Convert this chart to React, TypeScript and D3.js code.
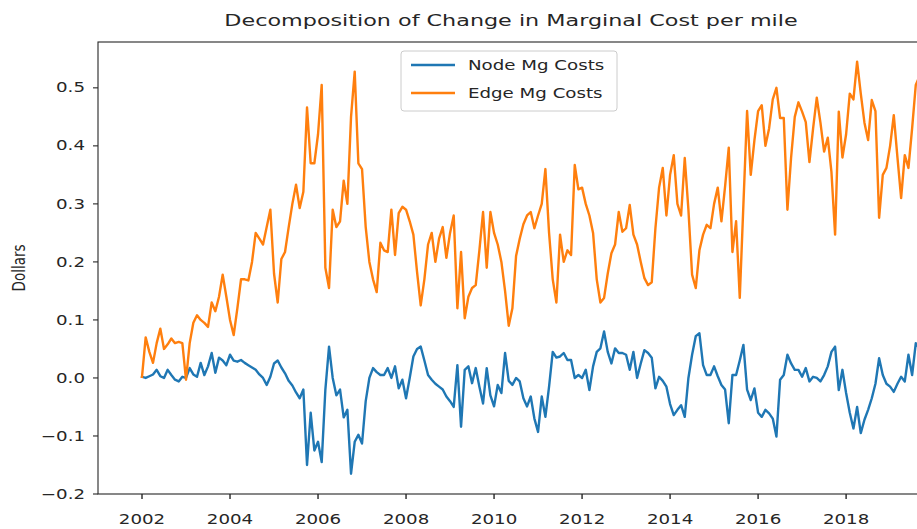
import { useEffect, useRef } from "react";
import * as d3 from "d3";

// monthly observations, first one is Jan 2002
const startYear = 2002;

const edgeMgCosts = [
  0.002, 0.07, 0.045, 0.026, 0.06, 0.085, 0.05, 0.058, 0.068, 0.06, 0.062, 0.06,
  -0.003, 0.06, 0.095, 0.108, 0.1, 0.095, 0.088, 0.13, 0.115, 0.14, 0.178, 0.14,
  0.1, 0.074, 0.12, 0.17, 0.17, 0.168, 0.2, 0.25, 0.24, 0.23, 0.26, 0.29,
  0.18, 0.13, 0.205, 0.217, 0.26, 0.3, 0.333, 0.293, 0.321, 0.466, 0.37, 0.37,
  0.42, 0.505, 0.19, 0.155, 0.29, 0.26, 0.27, 0.34, 0.3, 0.45, 0.528, 0.37,
  0.36, 0.26, 0.2, 0.17, 0.148, 0.233, 0.22, 0.217, 0.29, 0.212, 0.284, 0.295,
  0.29, 0.27, 0.247, 0.183, 0.125, 0.17, 0.23, 0.25, 0.2, 0.24, 0.26, 0.207,
  0.25, 0.28, 0.12, 0.217, 0.103, 0.14, 0.155, 0.16, 0.22, 0.286, 0.19, 0.286,
  0.25, 0.23, 0.2, 0.15, 0.09, 0.12, 0.21, 0.24, 0.265, 0.28, 0.286, 0.258,
  0.28, 0.3, 0.36, 0.25, 0.17, 0.13, 0.247, 0.2, 0.22, 0.212, 0.367, 0.325,
  0.328, 0.3, 0.28, 0.25, 0.17, 0.13, 0.138, 0.18, 0.215, 0.23, 0.286, 0.252,
  0.258, 0.298, 0.247, 0.23, 0.2, 0.172, 0.16, 0.165, 0.258, 0.328, 0.362, 0.28,
  0.35, 0.384, 0.3, 0.28, 0.379, 0.29, 0.178, 0.155, 0.22, 0.247, 0.264, 0.258,
  0.3, 0.328, 0.27, 0.33, 0.397, 0.217, 0.27, 0.138, 0.3, 0.46, 0.35, 0.41,
  0.46, 0.47, 0.4, 0.43, 0.48, 0.5, 0.448, 0.448, 0.29, 0.38, 0.45, 0.475,
  0.459, 0.441, 0.372, 0.43, 0.483, 0.44, 0.39, 0.414, 0.355, 0.247, 0.459, 0.38,
  0.42, 0.49, 0.48, 0.545, 0.49, 0.44, 0.41, 0.479, 0.46, 0.276, 0.35, 0.362,
  0.4, 0.453, 0.38, 0.31, 0.384, 0.362, 0.43, 0.505, 0.52,
];

const nodeMgCosts = [
  0.002, 0.0, 0.003, 0.006, 0.014, 0.003, 0.0, 0.014, 0.005, -0.003, -0.006, 0.002,
  0.0, 0.017, 0.006, 0.002, 0.026, 0.005, 0.02, 0.043, 0.009, 0.035, 0.03, 0.022,
  0.04, 0.03, 0.028, 0.031, 0.026, 0.022, 0.018, 0.014, 0.006, 0.0, -0.012, 0.002,
  0.025, 0.03, 0.018, 0.008, -0.005, -0.013, -0.025, -0.035, -0.02, -0.15, -0.06, -0.125,
  -0.11, -0.145, -0.02, 0.054, 0.0, -0.03, -0.02, -0.068, -0.055, -0.165, -0.11, -0.098,
  -0.113, -0.04, 0.0, 0.017, 0.01, 0.005, 0.005, 0.017, 0.0, 0.02, -0.018, -0.003,
  -0.035, 0.0, 0.037, 0.05, 0.054, 0.03, 0.005, -0.003, -0.01, -0.015, -0.02, -0.032,
  -0.04, -0.05, 0.022, -0.084, 0.014, 0.02, -0.009, 0.017, -0.015, -0.044, 0.017, -0.03,
  -0.049, -0.012, -0.026, 0.043, -0.005, -0.012, 0.0, -0.006, -0.035, -0.049, -0.032, -0.07,
  -0.093, -0.032, -0.067, -0.015, 0.045, 0.035, 0.037, 0.043, 0.031, 0.031, 0.0, 0.005,
  0.0, 0.014, -0.021, 0.02, 0.045, 0.051, 0.08, 0.045, 0.025, 0.051, 0.043, 0.043,
  0.04, 0.014, 0.045, 0.0, 0.025, 0.048, 0.043, 0.035, -0.018, 0.002, -0.005, -0.015,
  -0.045, -0.064, -0.055, -0.047, -0.067, 0.0, 0.04, 0.072, 0.077, 0.022, 0.005, 0.005,
  0.02, 0.003, -0.012, -0.02, -0.078, 0.005, 0.005, 0.03, 0.057, -0.02, -0.038, -0.018,
  -0.06, -0.067, -0.055, -0.061, -0.07, -0.101, -0.003, 0.005, 0.04, 0.025, 0.014, 0.014,
  0.002, 0.017, -0.006, 0.002, 0.0, -0.006, 0.005, 0.02, 0.045, 0.054, -0.021, 0.014,
  -0.026, -0.06, -0.087, -0.05, -0.095, -0.072, -0.055, -0.035, -0.01, 0.034, 0.005, -0.01,
  -0.015, -0.024, -0.01, 0.002, -0.006, 0.04, 0.005, 0.06, 0.05,
];

const yTicks = [-0.2, -0.1, 0.0, 0.1, 0.2, 0.3, 0.4, 0.5];
const xTickYears = [2002, 2004, 2006, 2008, 2010, 2012, 2014, 2016, 2018];

const seriesNames = ["Node Mg Costs", "Edge Mg Costs"];
const seriesColors = ["#1f77b4", "#ff7f0e"];

// the source image is stretched sideways, text included
const stretch = 1.35;

export default function App() {
  const svgRef = useRef<SVGSVGElement>(null);

  useEffect(() => {
    if (!svgRef.current) return;
    const svg = d3.select(svgRef.current);
    svg.selectAll("*").remove();

    const width = 917;
    const height = 529;
    const left = 98;
    const right = 924;
    const top = 42;
    const bottom = 494;
    const font = "DejaVu Sans, sans-serif";
    const textColor = "#262626";

    svg.attr("width", width).attr("height", height);

    const x = d3.scaleLinear().domain([2001.0, 2019.77]).range([left, right]);
    const y = d3.scaleLinear().domain([-0.2, 0.579]).range([bottom, top]);

    const addText = (
      parent: d3.Selection<any, unknown, null, undefined>,
      tx: number,
      ty: number,
      str: string,
      anchor: string,
      size: number
    ) =>
      parent
        .append("text")
        .attr("transform", `translate(${tx},${ty}) scale(${stretch},1)`)
        .attr("text-anchor", anchor)
        .attr("dominant-baseline", "central")
        .attr("font-family", font)
        .attr("font-size", `${size}px`)
        .attr("fill", textColor)
        .text(str);

    svg
      .append("rect")
      .attr("width", width)
      .attr("height", height)
      .attr("fill", "white");

    svg
      .append("defs")
      .append("clipPath")
      .attr("id", "plot-clip")
      .append("rect")
      .attr("x", left)
      .attr("y", top)
      .attr("width", right - left)
      .attr("height", bottom - top);

    // lines
    const line = d3
      .line<number>()
      .x((_, i) => x(startYear + i / 12))
      .y((d) => y(d));

    const plot = svg.append("g").attr("clip-path", "url(#plot-clip)");
    [nodeMgCosts, edgeMgCosts].forEach((values, i) => {
      plot
        .append("path")
        .datum(values)
        .attr("d", line)
        .attr("fill", "none")
        .attr("stroke", seriesColors[i])
        .attr("stroke-width", 2.4)
        .attr("stroke-linejoin", "round")
        .attr("stroke-linecap", "square");
    });

    // spines
    svg
      .append("rect")
      .attr("x", left)
      .attr("y", top)
      .attr("width", right - left)
      .attr("height", bottom - top)
      .attr("fill", "none")
      .attr("stroke", "#262626")
      .attr("stroke-width", 1.1);

    // y axis
    yTicks.forEach((t) => {
      const ty = y(t);
      svg
        .append("line")
        .attr("x1", left - 5)
        .attr("x2", left)
        .attr("y1", ty)
        .attr("y2", ty)
        .attr("stroke", "#262626")
        .attr("stroke-width", 1.1);
      addText(
        svg,
        left - 13,
        ty,
        t < 0 ? "\u2212" + Math.abs(t).toFixed(1) : t.toFixed(1),
        "end",
        13.5
      );
    });

    // x axis
    xTickYears.forEach((yr) => {
      const tx = x(yr);
      svg
        .append("line")
        .attr("x1", tx)
        .attr("x2", tx)
        .attr("y1", bottom)
        .attr("y2", bottom + 5)
        .attr("stroke", "#262626")
        .attr("stroke-width", 1.4);
      addText(svg, tx, bottom + 25, String(yr), "middle", 13.5);
    });

    // y label
    svg
      .append("text")
      .attr("transform", `translate(19,${(top + bottom) / 2}) rotate(-90) scale(1,${stretch})`)
      .attr("text-anchor", "middle")
      .attr("dominant-baseline", "central")
      .attr("font-family", font)
      .attr("font-size", "13.5px")
      .attr("fill", textColor)
      .text("Dollars");

    // title
    addText(
      svg,
      (left + right) / 2,
      21,
      "Decomposition of Change in Marginal Cost per mile",
      "middle",
      16.5
    );

    // legend
    const legend = svg.append("g").attr("transform", "translate(401,51)");
    legend
      .append("rect")
      .attr("width", 216)
      .attr("height", 60)
      .attr("rx", 3)
      .attr("fill", "white")
      .attr("fill-opacity", 0.8)
      .attr("stroke", "#cccccc")
      .attr("stroke-width", 1);
    seriesNames.forEach((name, i) => {
      const ly = 14 + i * 28;
      legend
        .append("line")
        .attr("x1", 10)
        .attr("x2", 54)
        .attr("y1", ly)
        .attr("y2", ly)
        .attr("stroke", seriesColors[i])
        .attr("stroke-width", 2.4);
      addText(legend, 67, ly, name, "start", 13.5);
    });
  }, []);

  return (
    <svg
      ref={svgRef}
      style={{ position: "absolute", left: 0, top: 0, display: "block" }}
    ></svg>
  );
}
